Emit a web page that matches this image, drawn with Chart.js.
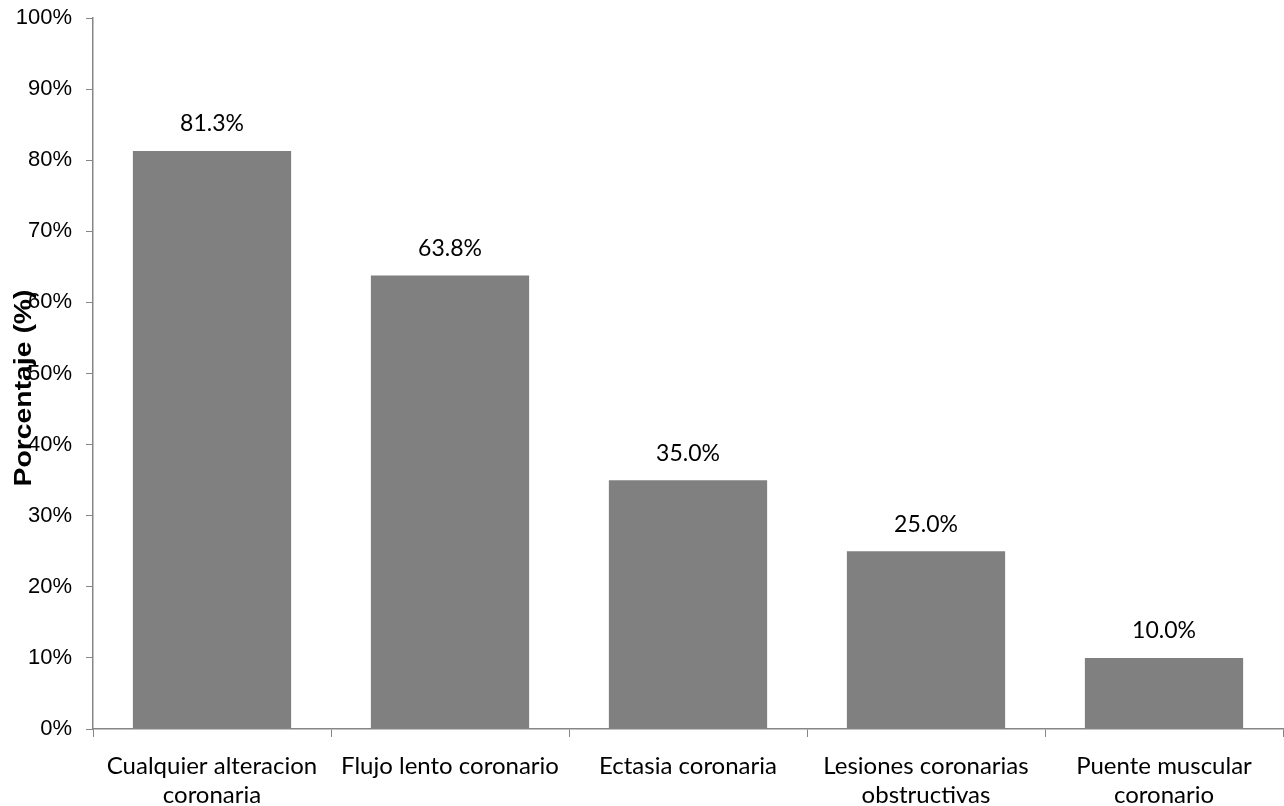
<!DOCTYPE html>
<html>
<head>
<meta charset="utf-8">
<script src="https://cdn.jsdelivr.net/npm/chart.js@4"></script>
<style>
  html, body { margin: 0; padding: 0; background: #fff; }
  #wrap { width: 1284px; height: 806px; }
</style>
</head>
<body>
<div id="wrap"><canvas id="myChart"></canvas></div>
<script>
// data
const categories = [
    ["Cualquier alteracion", "coronaria"],
    "Flujo lento coronario",
    "Ectasia coronaria",
    ["Lesiones coronarias", "obstructivas"],
    ["Puente muscular", "coronario"]
];
const percentages = [81.3, 63.8, 35.0, 25.0, 10.0];
const yTicks = [0, 10, 20, 30, 40, 50, 60, 70, 80, 90, 100];
const yTitle = "Porcentaje (%)";

const axisColor = '#868686';

// value labels above the bars
const barLabels = {
    id: 'barLabels',
    afterDatasetsDraw(chart) {
        const ctx = chart.ctx;
        ctx.save();
        ctx.font = '23px Lato, "Open Sans", sans-serif';
        ctx.fillStyle = '#000';
        ctx.textAlign = 'center';
        ctx.textBaseline = 'middle';
        chart.getDatasetMeta(0).data.forEach(function (bar, i) {
            ctx.fillText(percentages[i].toFixed(1) + '%', bar.x, bar.y - 27);
        });
        ctx.restore();
    }
};

// y title sits on top of the tick labels, like in the original
const yTitlePlugin = {
    id: 'yTitlePlugin',
    afterDraw(chart) {
        const ctx = chart.ctx;
        ctx.save();
        ctx.font = 'bold 24px "Liberation Sans", Arial, sans-serif';
        const w = ctx.measureText(yTitle).width;
        ctx.translate(24, 388);
        ctx.rotate(-Math.PI / 2);
        ctx.scale(197 / w, 1);
        ctx.fillStyle = '#000';
        ctx.textAlign = 'center';
        ctx.textBaseline = 'middle';
        ctx.fillText(yTitle, 0, 0);
        ctx.restore();
    }
};

const ctx = document.getElementById('myChart').getContext('2d');

const myBarChart = new Chart(ctx, {
    type: 'bar',
    data: {
        labels: categories,
        datasets: [{
            data: percentages,
            backgroundColor: '#808080',
            borderWidth: 0,
            categoryPercentage: 1,
            barPercentage: 0.665
        }]
    },
    plugins: [barLabels, yTitlePlugin],
    options: {
        responsive: true,
        maintainAspectRatio: false,
        animation: false,
        layout: { padding: { top: 18, right: 1, left: 0, bottom: 0 } },
        plugins: {
            legend: { display: false },
            tooltip: { enabled: false }
        },
        scales: {
            x: {
                grid: {
                    display: true,
                    drawOnChartArea: false,
                    drawTicks: true,
                    tickLength: 8,
                    color: axisColor,
                    offset: true
                },
                border: { display: true, color: axisColor, width: 1.5 },
                ticks: {
                    color: '#000',
                    font: { family: 'Lato, "Open Sans", sans-serif', size: 24, lineHeight: 1.2 },
                    padding: 15,
                    maxRotation: 0,
                    autoSkip: false
                },
                afterFit(scale) { scale.height = 77; }
            },
            y: {
                min: 0,
                max: 100,
                afterBuildTicks(scale) {
                    scale.ticks = yTicks.map(function (v) { return { value: v }; });
                },
                grid: {
                    display: true,
                    drawOnChartArea: false,
                    drawTicks: true,
                    tickLength: 7,
                    color: axisColor
                },
                border: { display: true, color: axisColor, width: 1.5 },
                ticks: {
                    color: '#000',
                    font: { family: '"Liberation Sans", Arial, sans-serif', size: 22 },
                    padding: 14,
                    callback: function (v) { return v + '%'; }
                },
                afterFit(scale) {
                    scale.width = 93;
                    scale.paddingTop = 0;
                    scale.paddingBottom = 0;
                }
            }
        }
    }
});
</script>
</body>
</html>
